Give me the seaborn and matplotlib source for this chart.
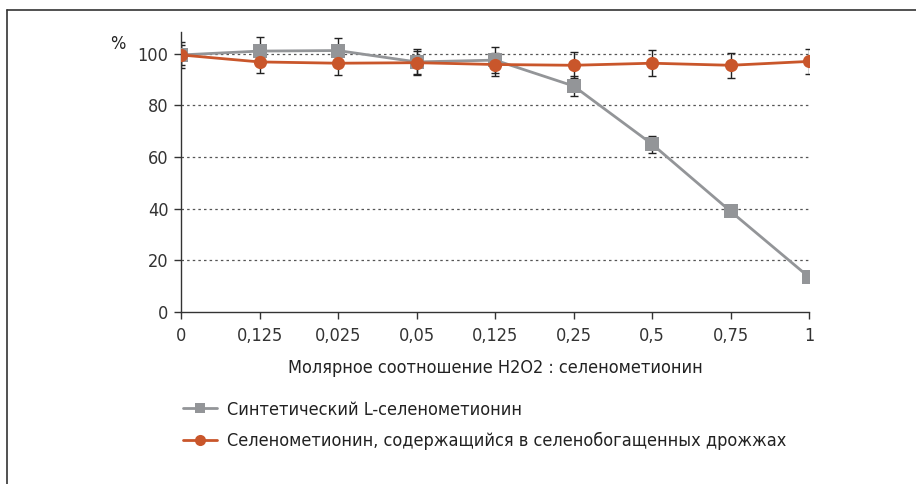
import matplotlib
matplotlib.use("Agg")
import matplotlib.pyplot as plt
import matplotlib.font_manager as fm
import seaborn as sns
import pandas as pd
import numpy as np
from matplotlib.lines import Line2D

categories = ["0", "0,125", "0,025", "0,05", "0,125", "0,25", "0,5", "0,75", "1"]
synthetic = [99.5, 101.0, 101.2, 96.8, 97.5, 87.5, 65.0, 39.0, 13.5]
synthetic_err = [5.0, 5.5, 5.0, 5.0, 5.0, 4.0, 3.3, 1.2, 0.0]
yeast = [99.5, 96.8, 96.3, 96.5, 95.8, 95.5, 96.3, 95.5, 97.0]
yeast_err = [4.0, 4.3, 4.5, 4.5, 4.5, 5.0, 5.0, 4.8, 4.8]
series_names = ["Синтетический L-селенометионин",
                "Селенометионин, содержащийся в селенобогащенных дрожжах"]
yticks = [0, 20, 40, 60, 80, 100]

sns.set_theme(style="white")
entries = fm.fontManager.ttflist
names = {f.name for f in entries}
cond = [f for f in entries if f.name == "DejaVu Sans" and f.stretch == "condensed"
        and f.style == "normal"]
cond_reg = [f for f in cond if str(f.weight) in ("400", "normal", "book", "regular")]
if "Liberation Sans Narrow" in names:
    fp = fm.FontProperties(family="Liberation Sans Narrow")
elif cond_reg:
    fp = fm.FontProperties(fname=cond_reg[0].fname)
elif cond:
    fp = fm.FontProperties(fname=sorted(cond, key=lambda f: len(f.fname))[0].fname)
else:
    fp = fm.FontProperties(family="DejaVu Sans")
plt.rcParams["font.family"] = ["DejaVu Sans"]

gray = "#939598"
orange = "#C9562B"
tc = "#222222"
fs = 13

fig = plt.figure(figsize=(9.16, 4.84), dpi=100)
ax = fig.add_axes([0.1976, 0.3554, 0.6856, 0.5791])

pos = np.arange(len(categories))
df = pd.DataFrame({
    "x": np.concatenate([pos, pos]),
    "y": synthetic + yeast,
    "s": [series_names[0]] * len(pos) + [series_names[1]] * len(pos),
})

for i in yticks[1:]:
    ax.plot([0, len(pos) - 1], [i, i], color="#555555", lw=0.9, ls=(0, (2, 2.5)), zorder=0)

ax.errorbar(pos, synthetic, yerr=synthetic_err, fmt="none", ecolor="#222222",
            elinewidth=1.0, capsize=3, capthick=1.0, zorder=2)
ax.errorbar(pos, yeast, yerr=yeast_err, fmt="none", ecolor="#222222",
            elinewidth=1.0, capsize=3, capthick=1.0, zorder=2)

sns.lineplot(data=df, x="x", y="y", hue="s", style="s",
             palette=[gray, orange], markers=["s", "o"], dashes=False,
             markersize=9.5, linewidth=2.0, markeredgewidth=0, ax=ax,
             legend=False, zorder=3)

ax.set_xlim(0, len(pos) - 1)
ax.set_ylim(0, 108.5)
ax.set_xticks(pos)
ax.set_xticklabels(categories, fontproperties=fp, fontsize=fs, color=tc)
ax.set_yticks(yticks)
ax.set_yticklabels([str(v) for v in yticks], fontproperties=fp, fontsize=fs, color=tc)
ax.tick_params(axis="both", colors="#333333", length=5,
               width=1, direction="out", left=True, bottom=True, pad=6)
ax.tick_params(axis="y", pad=4)
for s in ["top", "right"]:
    ax.spines[s].set_visible(False)
for s in ["left", "bottom"]:
    ax.spines[s].set_color("#333333")
    ax.spines[s].set_linewidth(1.0)
ax.set_xlabel("Молярное соотношение H2O2 : селенометионин", fontproperties=fp,
              fontsize=fs, color=tc, labelpad=10)
ax.set_ylabel("")
ax.text(-0.1, 0.955, "%", transform=ax.transAxes, fontproperties=fp, fontsize=fs,
        color=tc, ha="center", va="center")

handles = [
    Line2D([], [], color=gray, marker="s", markersize=7, lw=2.0, markeredgewidth=0),
    Line2D([], [], color=orange, marker="o", markersize=8, lw=2.0, markeredgewidth=0),
]
lp = fp.copy()
lp.set_size(fs)
leg = fig.legend(handles, series_names, loc="upper left", bbox_to_anchor=(0.2, 0.172),
                 frameon=False, prop=lp, handlelength=1.85, handletextpad=0.55,
                 labelspacing=0.75, borderaxespad=0, borderpad=0)
for t in leg.get_texts():
    t.set_color(tc)

fig.add_artist(Line2D([0.0076, 0.0076], [0, 0.979], transform=fig.transFigure,
                      color="#333333", lw=1.2))
fig.add_artist(Line2D([0.0076, 1.0], [0.979, 0.979], transform=fig.transFigure,
                      color="#333333", lw=1.2))

fig.savefig("out.png", dpi=100)
